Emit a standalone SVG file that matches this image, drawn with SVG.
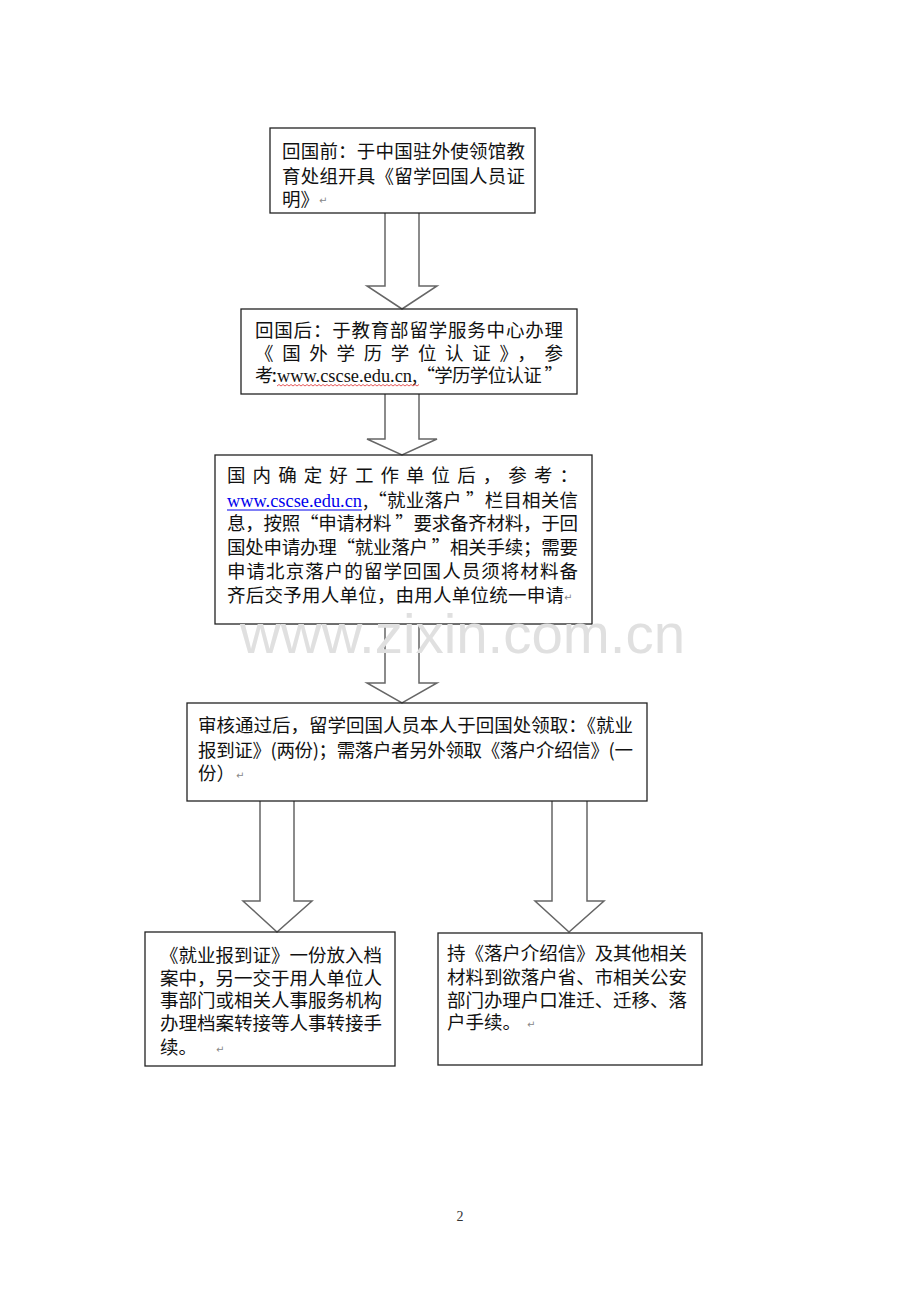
<svg xmlns="http://www.w3.org/2000/svg" width="920" height="1302" viewBox="0 0 920 1302">
<style>
.box{fill:none;stroke:#222;stroke-width:1.3}
.arr{fill:none;stroke:#666;stroke-width:1.5;stroke-linejoin:miter}
.t{font-family:"Noto Sans CJK SC","Noto Sans",sans-serif;font-size:18.5px;fill:#111}
.lat{font-family:"Liberation Serif","Noto Sans CJK SC",serif;font-size:18.5px;fill:#111}
.link{font-family:"Liberation Serif",serif;font-size:18.5px;fill:#0000ee}
.rm{font-family:"DejaVu Sans",sans-serif;font-size:10px;fill:#888}
.wm{font-family:"Liberation Sans",Arial,sans-serif;font-size:56px;fill:#e0e0e0}
</style>
<rect width="920" height="1302" fill="#fff"/>
<g id="connectors">
<polyline class="arr" points="385,213 385,286 367,286 402,309 437,286 419,286 419,213"/>
<polyline class="arr" points="385,394 385,439 367,439 402,455 437,439 419,439 419,394"/>
<polyline class="arr" points="385,624 385,683 367,683 402,703 437,683 419,683 419,624"/>
<polyline class="arr" points="260,801 260,901 243,901 277,932 312,901 294,901 294,801"/>
<polyline class="arr" points="552,801 552,901 535,901 569,932 604,901 587,901 587,801"/>
</g>
<g id="node1">
<rect class="box" x="270" y="128" width="265" height="85"/>
<text class="t" x="282" y="158" textLength="243" lengthAdjust="spacing">回国前：于中国驻外使领馆教</text>
<text class="t" x="282" y="183" textLength="243" lengthAdjust="spacing">育处组开具《留学回国人员证</text>
<text class="t" x="282" y="206">明》</text>
<text class="rm" x="319" y="204">↵</text>
</g>
<g id="node2">
<rect class="box" x="241" y="309" width="336" height="85"/>
<text class="t" x="255" y="337" textLength="308" lengthAdjust="spacing">回国后：于教育部留学服务中心办理</text>
<text class="t" x="255" y="360" textLength="308" lengthAdjust="spacing">《国外学历学位认证》，参</text>
<text class="t" x="255" y="382" textLength="22" lengthAdjust="spacing">考:</text>
<text class="lat" x="277" y="382" textLength="135" lengthAdjust="spacingAndGlyphs">www.cscse.edu.cn</text>
<text class="t" x="412" y="382" textLength="151" lengthAdjust="spacing">,“学历学位认证 ”</text>
<path d="M277,386 l2,-1.5 l2,1.5 l2,-1.5 l2,1.5 l2,-1.5 l2,1.5 l2,-1.5 l2,1.5 l2,-1.5 l2,1.5 l2,-1.5 l2,1.5 l2,-1.5 l2,1.5 l2,-1.5 l2,1.5 l2,-1.5 l2,1.5 l2,-1.5 l2,1.5 l2,-1.5 l2,1.5 l2,-1.5 l2,1.5 l2,-1.5 l2,1.5 l2,-1.5 l2,1.5 l2,-1.5 l2,1.5 l2,-1.5 l2,1.5 l2,-1.5 l2,1.5 l2,-1.5 l2,1.5 l2,-1.5 l2,1.5 l2,-1.5 l2,1.5 l2,-1.5 l2,1.5 l2,-1.5 l2,1.5 l2,-1.5 l2,1.5 l2,-1.5 l2,1.5 l2,-1.5 l2,1.5 l2,-1.5 l2,1.5 l2,-1.5 l2,1.5 l2,-1.5 l2,1.5 l2,-1.5 l2,1.5 l2,-1.5 l2,1.5 l2,-1.5 l2,1.5 l2,-1.5 l2,1.5 l2,-1.5 l2,1.5 l2,-1.5 l2,1.5 l2,-1.5 l2,1.5 l2,-1.5" fill="none" stroke="#e03030" stroke-width="0.8"/>
</g>
<g id="node3">
<rect class="box" x="215" y="455" width="377" height="169"/>
<text class="t" x="227" y="482" textLength="351" lengthAdjust="spacing">国内确定好工作单位后，参考：</text>
<text class="link" x="227" y="507" textLength="135" lengthAdjust="spacingAndGlyphs">www.cscse.edu.cn</text>
<line x1="227" y1="510" x2="362" y2="510" stroke="#0000ee" stroke-width="1"/>
<text class="t" x="363" y="507" textLength="215" lengthAdjust="spacing">,“就业落户 ”栏目相关信</text>
<text class="t" x="227" y="530" textLength="351" lengthAdjust="spacing">息，按照“申请材料 ”要求备齐材料，于回</text>
<text class="t" x="227" y="554" textLength="351" lengthAdjust="spacing">国处申请办理“就业落户 ”相关手续；需要</text>
<text class="t" x="227" y="578" textLength="351" lengthAdjust="spacing">申请北京落户的留学回国人员须将材料备</text>
<text class="t" x="227" y="602" textLength="337" lengthAdjust="spacing">齐后交予用人单位，由用人单位统一申请</text>
<text class="rm" x="564" y="601">↵</text>
</g>
<g id="node4">
<rect class="box" x="187" y="703" width="460" height="98"/>
<text class="t" x="198" y="732" textLength="435" lengthAdjust="spacing">审核通过后，留学回国人员本人于回国处领取：《就业</text>
<text class="t" x="198" y="757" textLength="435" lengthAdjust="spacing">报到证》(两份)；需落户者另外领取《落户介绍信》(一</text>
<text class="t" x="198" y="780">份）</text>
<text class="rm" x="236" y="779">↵</text>
</g>
<g id="node5">
<rect class="box" x="145" y="932" width="250" height="134"/>
<text class="t" x="160" y="962" textLength="222" lengthAdjust="spacing">《就业报到证》一份放入档</text>
<text class="t" x="160" y="985" textLength="222" lengthAdjust="spacing">案中，另一交于用人单位人</text>
<text class="t" x="160" y="1007" textLength="222" lengthAdjust="spacing">事部门或相关人事服务机构</text>
<text class="t" x="160" y="1030" textLength="222" lengthAdjust="spacing">办理档案转接等人事转接手</text>
<text class="t" x="160" y="1054">续。</text>
<text class="rm" x="216" y="1053">↵</text>
</g>
<g id="node6">
<rect class="box" x="438" y="933" width="264" height="132"/>
<text class="t" x="447" y="960" textLength="240" lengthAdjust="spacing">持《落户介绍信》及其他相关</text>
<text class="t" x="447" y="984" textLength="240" lengthAdjust="spacing">材料到欲落户省、市相关公安</text>
<text class="t" x="447" y="1007" textLength="240" lengthAdjust="spacing">部门办理户口准迁、迁移、落</text>
<text class="t" x="447" y="1029">户手续。</text>
<text class="rm" x="527" y="1028">↵</text>
</g>
<text class="wm" x="240" y="653" textLength="445" lengthAdjust="spacingAndGlyphs">www.zixin.com.cn</text>
<text x="460" y="1221" text-anchor="middle" font-family="Liberation Serif,serif" font-size="14" fill="#333">2</text>
</svg>
